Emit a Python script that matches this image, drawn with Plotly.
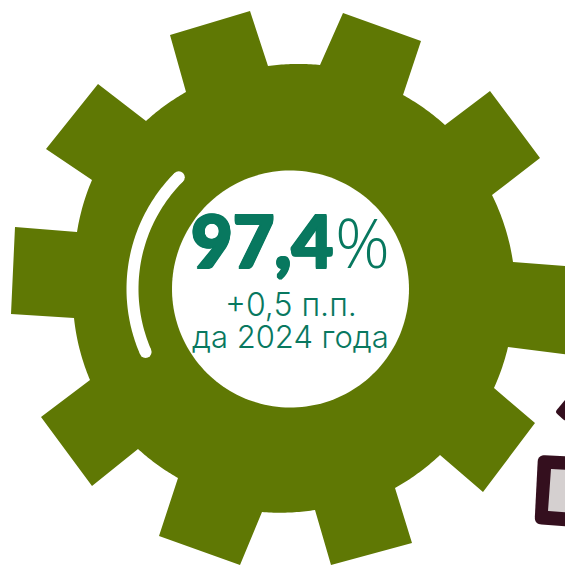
import numpy as np
import plotly.graph_objects as go

# Gear teeth: base-in, outer, outer, base-out corners (clockwise)
tooth_x = [[186,170,250,268],[320,343,421,403],[445,490,540,492],[513,577,572,508],[494,535,483,440],
           [395,412,331,315],[262,240,159,178],[138,92,41,90],[74,11,15,77],[92,46,98,146]]
tooth_y = [[92,35,11,66],[65,13,41,95],[125,91,158,195],[262,267,355,347],[388,423,492,455],
           [488,543,565,510],[512,565,536,478],[449,486,417,380],[318,314,227,232],[180,149,84,121]]
gear_center = (288, 288)
hub_center = (290.5, 289)
hub_radius = 118.5
arc_radius = 158
arc_start_deg, arc_end_deg = 135, 203.5
main_value = "97,4"
unit = "%"
sub_lines = ["+0,5 п.п.", "да 2024 года"]

GREEN, WHITE, TEAL, DARK, GREY = "#5f7804", "#ffffff", "#08785f", "#340f1e", "#d5d0d0"

def arc(cx, cy, r, a0, a1, n=80):
    t = np.radians(np.linspace(a0, a1, n))
    return cx + r*np.cos(t), cy - r*np.sin(t)

def rounded(xs, ys, r):
    pts = np.column_stack([xs, ys]).astype(float)
    out = []
    for i in range(len(pts)):
        p, a, b = pts[i], pts[i-1], pts[(i+1) % len(pts)]
        u = (a-p)/np.linalg.norm(a-p)
        v = (b-p)/np.linalg.norm(b-p)
        for t in np.linspace(0, 1, 10):
            out.append((1-t)**2*(p+u*r) + 2*(1-t)*t*p + t**2*(p+v*r))
    out.append(out[0])
    out = np.array(out)
    return out[:, 0], out[:, 1]

gx, gy = [], []
for i in range(len(tooth_x)):
    gx += tooth_x[i]; gy += tooth_y[i]
    j = (i+1) % len(tooth_x)
    x0, y0, x1, y1 = tooth_x[i][3], tooth_y[i][3], tooth_x[j][0], tooth_y[j][0]
    a0 = np.arctan2(y0-gear_center[1], x0-gear_center[0])
    a1 = np.arctan2(y1-gear_center[1], x1-gear_center[0])
    if a1 < a0: a1 += 2*np.pi
    r0, r1 = np.hypot(x0-gear_center[0], y0-gear_center[1]), np.hypot(x1-gear_center[0], y1-gear_center[1])
    for f in np.linspace(0, 1, 24)[1:-1]:
        a, r = a0+(a1-a0)*f, r0+(r1-r0)*f
        gx.append(gear_center[0]+r*np.cos(a)); gy.append(gear_center[1]+r*np.sin(a))

fig = go.Figure()
fig.add_trace(go.Scatter(x=gx+gx[:1], y=gy+gy[:1], mode="lines", fill="toself", fillcolor=GREEN,
                         line=dict(color=GREEN, width=0, simplify=False), hoverinfo="skip"))
hx, hy = arc(*hub_center, hub_radius, 0, 360, 180)
fig.add_trace(go.Scatter(x=hx, y=hy, mode="lines", fill="toself", fillcolor=WHITE,
                         line=dict(color=WHITE, width=0, simplify=False), hoverinfo="skip"))
ax, ay = arc(*hub_center, arc_radius, arc_start_deg, arc_end_deg)
fig.add_trace(go.Scatter(x=ax, y=ay, mode="lines", line=dict(color=WHITE, width=12, simplify=False), hoverinfo="skip"))
fig.add_trace(go.Scatter(x=[ax[0], ax[-1]], y=[ay[0], ay[-1]], mode="markers",
                         marker=dict(color=WHITE, size=12, line=dict(width=0)), hoverinfo="skip"))

# Cropped fragments at the lower right
frame_x, frame_y = [538,600,600,534.5], [455,458,529,524]
inner_x, inner_y = [551,590,590,548], [469,471,514,511]
diamond_x, diamond_y = [555,575,575,565], [412,388,421,421]
for xs, ys, c, r in [(frame_x, frame_y, DARK, 7), (inner_x, inner_y, GREY, 0.5), (diamond_x, diamond_y, DARK, 3)]:
    px, py = rounded(xs, ys, r)
    fig.add_trace(go.Scatter(x=px, y=py, mode="lines", fill="toself", fillcolor=c,
                             line=dict(color=c, width=0, simplify=False), hoverinfo="skip"))

def note(x, y, text, size, weight, family="Inter", shadow=None):
    font = dict(family=family, size=size, color=TEAL, weight=weight)
    if shadow:
        font["shadow"] = shadow
    fig.add_annotation(x=x, y=y, text=text, showarrow=False, xanchor="center", yanchor="middle", font=font)

thick = f"1px 0 0 {TEAL}, -1px 0 0 {TEAL}, 0 1px 0 {TEAL}, 0 -1px 0 {TEAL}, 1px 1px 0 {TEAL}, -1px -1px 0 {TEAL}, 1px -1px 0 {TEAL}, -1px 1px 0 {TEAL}"
note(262, 240, main_value, 72, 900, "Lato", thick)
note(362, 241, unit, 68, 300, "Open Sans")
note(291, 304, sub_lines[0], 32, 300)
note(290, 336, sub_lines[1], 31, 300)

fig.update_layout(width=565, height=565, margin=dict(l=0, r=0, t=0, b=0), showlegend=False,
                  paper_bgcolor=WHITE, plot_bgcolor=WHITE,
                  xaxis=dict(range=[0,565], visible=False, fixedrange=True),
                  yaxis=dict(range=[565,0], visible=False, fixedrange=True))
fig.write_html("out.html", config=dict(displayModeBar=False),
               post_script="document.body.style.margin='0';document.documentElement.style.overflow='hidden';")
